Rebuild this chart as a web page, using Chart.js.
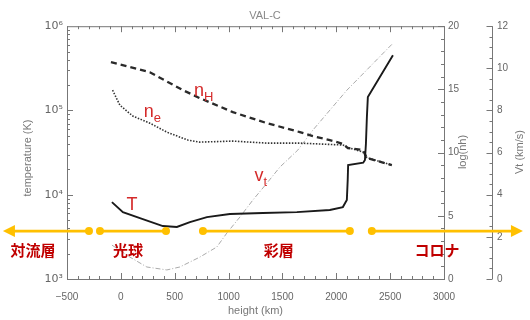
<!DOCTYPE html>
<html><head><meta charset="utf-8">
<script src="https://cdn.jsdelivr.net/npm/chart.js@4.4.1/dist/chart.umd.min.js"></script>
<style>html,body{margin:0;background:#fff}#wrap{width:530px;height:320px}</style>
</head><body><div id="wrap"><canvas id="c"></canvas></div>
<script>
// VAL-C model atmosphere — T, nH, ne, vt vs height

// temperature (K) on log axis
const tH=[-83,19,177,390,520,641,799,1012,1318,1634,1940,2061,2098,2106,2110,2250,2266,2275,2284,2293,2526];
const tV=[8180,6220,5280,4250,4140,4740,5430,5900,6070,6220,6580,7140,8650,14900,22500,24000,25800,40000,83000,144000,453000];
// log(nH)
const nhH=[-92,269,576,733,1040,1356,1662,1783,1940,2061,2108,2247,2284,2516];
const nhV=[17.15,16.36,14.94,14.31,13.20,12.33,11.62,11.30,10.99,10.70,10.36,10.20,9.57,9.01];
// log(ne)
const neH=[-77,-9,111,269,427,622,733,1040,1356,1662,2061,2126,2247,2284,2516];
const neV=[14.94,13.75,12.89,12.33,11.62,10.99,10.83,10.91,10.75,10.75,10.60,10.36,10.04,9.60,9.01];
// turbulent velocity (km/s)
const vtH=[-83,84,241,427,548,733,891,984,1105,1226,1356,1476,1643,1783,2098,2526];
const vtV=[1.61,1.04,0.57,0.43,0.57,1.04,1.52,2.18,2.94,3.75,4.55,5.31,6.12,7.07,8.96,11.19];

// ticks
const xTicks=[-500,0,500,1000,1500,2000,2500,3000];
const tDecades=[1e3,1e4,1e5,1e6];
const supDigit={3:'³',4:'⁴',5:'⁵',6:'⁶'};

// layers (km); first/last ends are arrow tips
const layerName=['対流層','光球','彩層','コロナ'];
const layerFrom=[-1095,-194,762,2330];
const layerTo=[-296,419,2126,3733];
const layerLblX=[-816,66,1467,2935];
const arrowT=3700; // temperature level of the orange line

// curve labels [main, sub, km, T]
const curveLbl=[['T','',103,7530],['n','H',725,169000],['n','e',260,95500],['v','t',1283,16600]];

const pts=(h,v)=>h.map((x,i)=>({x,y:v[i]}));
const FONT='"Liberation Sans", Arial, sans-serif';

function ln(ctx,x1,y1,x2,y2){ctx.beginPath();ctx.moveTo(x1,y1);ctx.lineTo(x2,y2);ctx.stroke()}

const frame={id:'frame',afterDatasetsDraw(c){
  const {ctx,chartArea:a,scales:s}=c;
  ctx.save();ctx.strokeStyle='#777';ctx.lineWidth=1;
  ctx.strokeRect(a.left+.5,a.top+.5,a.right-a.left,a.bottom-a.top);
  // x ticks bottom/top, 100 km minor
  for(let v=-500;v<=3000;v+=100){const x=Math.round(s.x.getPixelForValue(v))+.5,L=v%500?3:6;ln(ctx,x,a.bottom,x,a.bottom-L);ln(ctx,x,a.top,x,a.top+L)}
  // temperature ticks
  for(let d=3;d<6;d++)for(let m=1;m<=9;m++){const y=Math.round(s.yT.getPixelForValue(m*10**d))+.5;ln(ctx,a.left,y,a.left+(m==1?6:3),y)}
  // log(nh) ticks
  for(let v=0;v<=20;v++){const y=Math.round(s.yN.getPixelForValue(v))+.5;ln(ctx,a.right,y,a.right-(v%5?3:6),y)}
  // Vt axis
  const xv=Math.round(s.yV.left)+.5;ln(ctx,xv,a.top,xv,a.bottom);
  for(let v=0;v<=12;v+=.5){const y=Math.round(s.yV.getPixelForValue(v))+.5;ln(ctx,xv,y,xv-(v%2?3:6),y)}
  ctx.restore();
},afterDraw(c){
  const {ctx,chartArea:a,scales:s}=c;
  ctx.save();
  // axis titles
  ctx.fillStyle='#777';ctx.font='11px '+FONT;ctx.textAlign='center';ctx.textBaseline='middle';
  [['temperature (K)',28,158],['log(nh)',463,152],['Vt (km/s)',520,152]].forEach(([t,x,y])=>{ctx.save();ctx.translate(x,y);ctx.rotate(-Math.PI/2);ctx.fillText(t,0,0);ctx.restore()});
  // orange layer bars
  const y=s.yT.getPixelForValue(arrowT),o='#FFC000';
  ctx.strokeStyle=o;ctx.fillStyle=o;ctx.lineWidth=2.6;
  layerName.forEach((n,i)=>{
    const x1=s.x.getPixelForValue(layerFrom[i]),x2=s.x.getPixelForValue(layerTo[i]);
    ln(ctx,i==0?x1+8:x1,y,i==3?x2-8:x2,y);
    if(i>0){ctx.beginPath();ctx.arc(x1,y,4,0,7);ctx.fill()}
    if(i<3){ctx.beginPath();ctx.arc(x2,y,4,0,7);ctx.fill()}
    if(i==0){ctx.beginPath();ctx.moveTo(x1,y);ctx.lineTo(x1+12,y-6);ctx.lineTo(x1+12,y+6);ctx.fill()}
    if(i==3){ctx.beginPath();ctx.moveTo(x2,y);ctx.lineTo(x2-12,y-6);ctx.lineTo(x2-12,y+6);ctx.fill()}
  });
  ctx.fillStyle='#C00000';ctx.font='bold 15px "Noto Sans CJK JP", sans-serif';
  layerName.forEach((n,i)=>ctx.fillText(n,s.x.getPixelForValue(layerLblX[i]),y+19));
  // curve labels
  ctx.fillStyle='#D42A2A';ctx.textAlign='left';
  curveLbl.forEach(([m,sub,h,t])=>{
    const x=s.x.getPixelForValue(h),yy=s.yT.getPixelForValue(t);
    ctx.font='18px '+FONT;const w=ctx.measureText(m).width;ctx.fillText(m,x-w/2,yy);
    if(sub){ctx.font='13px '+FONT;ctx.fillText(sub,x+w/2,yy+6)}
  });
  ctx.restore();
}};

const tickFont={family:FONT,size:10};
new Chart(document.getElementById('c'),{type:'line',
  data:{datasets:[
    {label:'T',data:pts(tH,tV),yAxisID:'yT',borderColor:'#1a1a1a',borderWidth:1.9},
    {label:'nH',data:pts(nhH,nhV),yAxisID:'yN',borderColor:'#2a2a2a',borderWidth:2.3,borderDash:[6,4]},
    {label:'ne',data:pts(neH,neV),yAxisID:'yN',borderColor:'#333',borderWidth:1.6,borderDash:[1.5,1.5]},
    {label:'vt',data:pts(vtH,vtV),yAxisID:'yV',borderColor:'#aaa',borderWidth:1,borderDash:[5,2,1,2]}
  ]},
  options:{responsive:true,maintainAspectRatio:false,animation:false,devicePixelRatio:1,
    layout:{padding:0},
    elements:{point:{radius:0},line:{tension:0}},
    plugins:{legend:{display:false},tooltip:{enabled:false},
      title:{display:true,text:'VAL-C',color:'#888',font:{family:FONT,size:11,weight:'normal'},padding:{top:9,bottom:4}}},
    scales:{
      x:{type:'linear',min:-500,max:3000,grid:{display:false,drawTicks:false},border:{display:false},
        afterBuildTicks:s=>{s.ticks=xTicks.map(v=>({value:v}))},
        afterFit:s=>{s.height=41},
        ticks:{color:'#666',font:tickFont,padding:12,autoSkip:false,maxRotation:0,callback:v=>v<0?'−'+(-v):v},
        title:{display:true,text:'height (km)',color:'#777',font:{family:FONT,size:11},padding:{top:0,bottom:2}}},
      yT:{type:'logarithmic',position:'left',min:1e3,max:1e6,grid:{display:false,drawTicks:false},border:{display:false},
        afterBuildTicks:s=>{s.ticks=tDecades.map(v=>({value:v}))},
        afterFit:s=>{s.width=67},
        ticks:{color:'#666',font:{family:'"DejaVu Sans", sans-serif',size:11},padding:4,callback:v=>'10'+supDigit[Math.round(Math.log10(v))]}},
      yN:{type:'linear',position:'right',weight:1,min:0,max:20,grid:{display:false,drawTicks:false},border:{display:false},
        afterFit:s=>{s.width=48},
        ticks:{color:'#666',font:tickFont,padding:4,stepSize:5}},
      yV:{type:'linear',position:'right',weight:2,min:0,max:12,grid:{display:false,drawTicks:false},border:{display:false},
        afterFit:s=>{s.width=38},
        ticks:{color:'#666',font:tickFont,padding:5,stepSize:2}}
    }},
  plugins:[frame]
});
</script>
</body></html>
